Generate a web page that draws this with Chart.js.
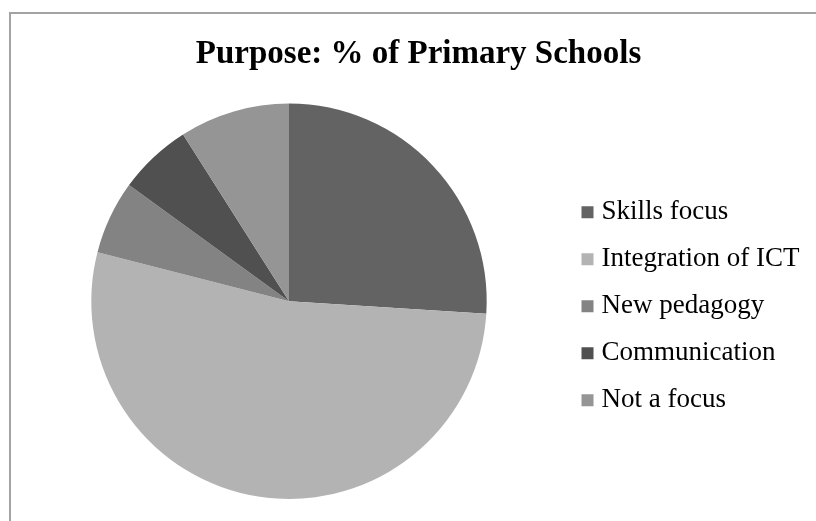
<!DOCTYPE html>
<html>
<head>
<meta charset="utf-8">
<title>Purpose: % of Primary Schools</title>
<script src="https://cdn.jsdelivr.net/npm/chart.js@4.4.1/dist/chart.umd.min.js"></script>
<style>

body{
margin:0;
background:#ffffff;
}

.frame{
position:absolute;
left:9px;
top:12px;
width:900px;
height:600px;
border-top:2px solid #a3a3a3;
border-left:2px solid #a3a3a3;
}

#purposeChart{
position:absolute;
left:0;
top:0;
}

</style>
</head>
<body>

<div class="frame"></div>
<canvas id="purposeChart" width="816" height="521"></canvas>

<script>

let categories = ["Skills focus","Integration of ICT","New pedagogy","Communication","Not a focus"]

let percentSchools = [26,53,6,6,9]

let sliceColors = ["#636363","#b3b3b3","#838383","#505050","#959595"]

let purposeChart


// legend column gets a fixed width so the pie keeps its place on the left,
// and its items sit a little lower than the default centring
let legendPlacement = {
id:"legendPlacement",
afterInit(chart){
let fit = chart.legend.fit
chart.legend.fit = function(){
fit.call(this)
this.width = 259
}
},
afterLayout(chart){
chart.legend.top += 5
chart.legend.bottom += 5
}
}



function createPurposeChart(){

purposeChart = new Chart(document.getElementById("purposeChart"),{

type:"pie",

data:{
labels:categories,
datasets:[{
data:percentSchools,
backgroundColor:sliceColors,
borderWidth:0
}]
},

plugins:[legendPlacement],

options:{
responsive:false,
animation:false,
devicePixelRatio:1,
layout:{
padding:{top:0,left:11,right:-10,bottom:22}
},
plugins:{
title:{
display:true,
text:"Purpose: % of Primary Schools",
color:"#000000",
font:{family:"'Liberation Serif', serif",size:33,weight:"bold",lineHeight:1.2},
padding:{top:35,bottom:29}
},
legend:{
position:"right",
fullSize:false,
labels:{
usePointStyle:true,
pointStyle:"rect",
boxWidth:1,
boxHeight:12,
padding:20,
color:"#000000",
font:{family:"'Liberation Serif', serif",size:27}
}
},
tooltip:{enabled:false}
}
}

})

}

createPurposeChart()

</script>
</body>
</html>
